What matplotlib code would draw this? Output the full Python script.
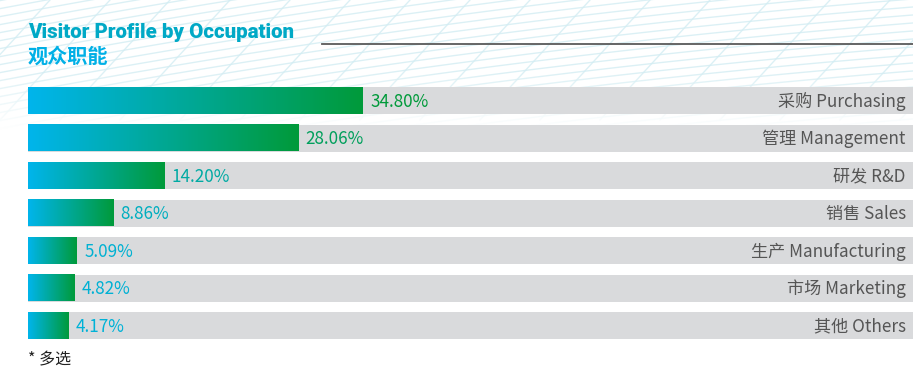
import matplotlib.pyplot as plt
import numpy as np
from matplotlib.colors import LinearSegmentedColormap

plt.rcParams['font.family'] = ['Noto Sans CJK SC', 'DejaVu Sans']

# Data
categories = ['采购 Purchasing', '管理 Management', '研发 R&D', '销售 Sales',
              '生产 Manufacturing', '市场 Marketing', '其他 Others']
shares = [34.80, 28.06, 14.20, 8.86, 5.09, 4.82, 4.17]
value_labels = ['34.80%', '28.06%', '14.20%', '8.86%', '5.09%', '4.82%', '4.17%']

title_en = 'Visitor Profile by Occupation'
title_cn = '观众职能'
footnote = '* 多选'

W, H = 913, 382
fig = plt.figure(figsize=(W / 100, H / 100), dpi=100)

# faint decorative mesh in the header band
bg = fig.add_axes([0, 0, 1, 1], zorder=0)
bg.set_xlim(0, W)
bg.set_ylim(H, 0)
bg.axis('off')
xs = np.linspace(0, W, 200)
for k in range(-20, 40):
    yy = 8 * k + 0.00006 * (xs - 900) ** 2 - xs * 0.08
    bg.plot(xs, yy, color='#d3edf3', lw=1.0, alpha=0.8)
for k in range(-10, 30):
    x0 = 60 * k
    bg.plot([x0, x0 + 110], [120, 0], color='#d3edf3', lw=1.0, alpha=0.8)
# fade the mesh out below the header
fade = np.linspace(0, 1, 100).reshape(-1, 1)
bg.imshow(np.dstack([np.ones((100, 1, 3)), fade]), extent=[0, W, 130, 70],
          aspect='auto', zorder=5)
bg.fill_between([0, W], 130, H, color='white', zorder=5)

cmap = LinearSegmentedColormap.from_list('bar', ['#00b5ec', '#009a3a'])

# axes placed in pixel terms: bars span x 28..913, y 87..339
ax = fig.add_axes([28 / W, (H - 339) / H, (W - 28) / W, 252 / H], zorder=2)
ax.patch.set_alpha(0)
xmax = 91.94
n = len(categories)
y = np.arange(n)
h = 0.72

ax.barh(y, [xmax] * n, height=h, color='#d9dadc', zorder=1)
grad = np.linspace(0, 1, 256).reshape(1, -1)
for yi, v, lab in zip(y, shares, value_labels):
    ax.imshow(grad, cmap=cmap, aspect='auto', extent=[0, v, yi + h / 2, yi - h / 2],
              zorder=2, interpolation='bicubic')
    c = cmap(v / max(shares))
    ax.text(v + 0.75, yi + 0.03, lab, va='center', ha='left', fontsize=12.3,
            color=c, zorder=3)
for yi, cat in zip(y, categories):
    ax.text(xmax - 0.75, yi + 0.03, cat, va='center', ha='right', fontsize=12.3,
            color='#555555', fontweight='medium', zorder=3)

ax.set_xlim(0, xmax)
ax.set_ylim(n - 1 + 0.36, -0.36)
ax.axis('off')

# header
fig.text(28 / W, 1 - 32 / H, title_en, fontsize=14.8, fontweight='heavy',
         color='#00a9c6', va='center', ha='left',
         family=['Roboto', 'DejaVu Sans'], zorder=6)
fig.text(28 / W, 1 - 56 / H, title_cn, fontsize=14.5, fontweight='bold',
         color='#00b0e6', va='center', ha='left', zorder=6)
fig.add_artist(plt.Line2D([322 / W, 1], [1 - 44 / H, 1 - 44 / H],
                          color='#5a5a5a', lw=1.3, zorder=6))

fig.text(28 / W, 1 - 360 / H, footnote, fontsize=11.5, color='#222222',
         va='center', ha='left', zorder=6)

fig.savefig('out.png', dpi=100)
